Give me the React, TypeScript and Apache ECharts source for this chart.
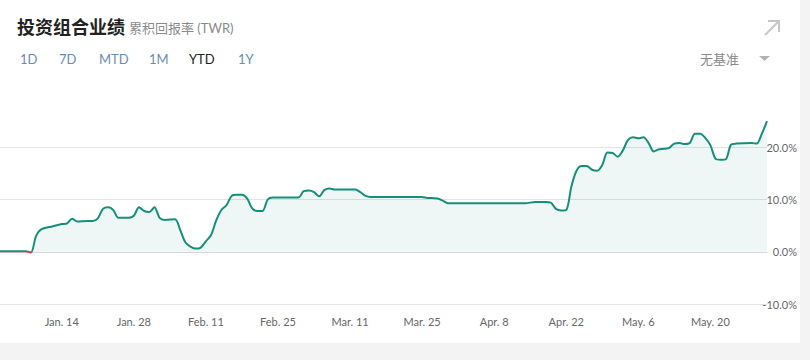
import React, { useEffect, useRef } from "react";
import * as echarts from "echarts";

const YEAR = 2025;

const dates = [
  "01-02", "01-07", "01-08", "01-09", "01-10", "01-12", "01-14", "01-15", "01-16", "01-17",
  "01-19", "01-20", "01-21", "01-22", "01-23", "01-24", "01-25", "01-27", "01-28", "01-29",
  "01-30", "01-31", "02-01", "02-02", "02-03", "02-05", "02-06", "02-07", "02-08", "02-09",
  "02-10", "02-11", "02-12", "02-13", "02-14", "02-15", "02-16", "02-17", "02-18", "02-19",
  "02-20", "02-21", "02-22", "02-23", "02-24", "03-01", "03-02", "03-03", "03-04", "03-05",
  "03-06", "03-07", "03-08", "03-12", "03-13", "03-14", "03-15", "03-25", "03-26", "03-28",
  "03-29", "03-30", "04-14", "04-16", "04-18", "04-19", "04-20", "04-21", "04-22", "04-23",
  "04-24", "04-25", "04-26", "04-27", "04-28", "04-29", "04-30", "05-01", "05-02", "05-03",
  "05-04", "05-05", "05-06", "05-07", "05-08", "05-09", "05-10", "05-11", "05-12", "05-13",
  "05-14", "05-15", "05-16", "05-17", "05-18", "05-19", "05-20", "05-21", "05-22", "05-23",
  "05-24", "05-25", "05-28", "05-29", "05-30", "05-31",
];

const values = [
  0.1, 0.1, -0.15, 3.0, 4.3, 4.8, 5.3, 5.4, 6.3, 5.8,
  5.9, 5.9, 6.4, 8.2, 8.5, 8.0, 6.5, 6.5, 6.9, 8.5,
  7.8, 7.6, 8.5, 6.5, 6.1, 6.2, 4.2, 1.8, 1.0, 0.6,
  0.8, 2.0, 3.2, 6.0, 8.0, 8.9, 10.7, 10.9, 10.9, 10.2,
  8.3, 7.8, 7.8, 10.0, 10.4, 10.4, 11.6, 11.7, 11.4, 10.6,
  11.8, 12.1, 11.9, 11.9, 11.4, 10.7, 10.5, 10.5, 10.3, 10.2,
  9.8, 9.3, 9.3, 9.5, 9.5, 9.4, 8.2, 7.9, 8.0, 12.5,
  15.5, 16.4, 16.4, 15.7, 15.5, 16.6, 19.0, 18.9, 18.2, 19.4,
  21.4, 21.9, 21.7, 21.9, 20.8, 19.2, 19.6, 19.7, 19.9, 20.7,
  20.8, 20.6, 20.8, 22.6, 22.6, 21.8, 20.4, 17.8, 17.6, 17.7,
  20.5, 20.7, 20.8, 20.7, 22.6, 25.0,
];

const xTickDates = ["01-14", "01-28", "02-11", "02-25", "03-11", "03-25", "04-08", "04-22", "05-06", "05-20"];
const xTickLabels = ["Jan. 14", "Jan. 28", "Feb. 11", "Feb. 25", "Mar. 11", "Mar. 25", "Apr. 8", "Apr. 22", "May. 6", "May. 20"];

const yMin = -10;
const yMax = 30;
const yStep = 10;

const tabs = ["1D", "7D", "MTD", "1M", "YTD", "1Y"];
const tabX = [20, 59, 99, 149, 189, 238];
const activeTab = "YTD";

const titleText = "投资组合业绩";
const subtitleText = "累积回报率 (TWR)";
const benchmarkText = "无基准";

const FONT = 'Lato, "Noto Sans CJK SC", sans-serif';
const TEAL = "#14907a";
const RED = "#d0454c";

function pad(n: number) {
  return n < 10 ? "0" + n : String(n);
}

// every calendar day from the first to the last reading, as "MM-DD" categories
function allDays(first: string, last: string): string[] {
  const [m0, d0] = first.split("-").map(Number);
  const [m1, d1] = last.split("-").map(Number);
  const start = Date.UTC(YEAR, m0 - 1, d0);
  const end = Date.UTC(YEAR, m1 - 1, d1);
  const out: string[] = [];
  for (let t = start; t <= end; t += 86400000) {
    const dt = new Date(t);
    out.push(pad(dt.getUTCMonth() + 1) + "-" + pad(dt.getUTCDate()));
  }
  return out;
}

export default function App() {
  const ref = useRef<HTMLDivElement>(null);

  useEffect(() => {
    if (!ref.current) return;
    const chart = echarts.init(ref.current, undefined, { renderer: "svg" });

    const categories = allDays(dates[0], dates[dates.length - 1]);
    const valueByDate: Record<string, number> = {};
    dates.forEach((d, i) => (valueByDate[d] = values[i]));
    const seriesData = categories.map((c) => (c in valueByDate ? valueByDate[c] : null));

    const H = 343;
    const gridTop = 95;
    const gridBottom = 39;
    const plotH = H - gridTop - gridBottom;
    const zeroY = gridTop + (plotH * (yMax - 0)) / (yMax - yMin);
    const zeroOff = zeroY / H;

    const graphics: any[] = [
      {
        type: "text",
        x: 17,
        y: 27,
        style: { text: titleText, fill: "#222", font: `bold 18px ${FONT}`, verticalAlign: "middle" },
      },
      {
        type: "text",
        x: 129,
        y: 28,
        style: { text: subtitleText, fill: "#8a8a8a", font: `13px ${FONT}`, verticalAlign: "middle" },
      },
      ...tabs.map((t, i) => ({
        type: "text",
        x: tabX[i],
        y: 59,
        style: {
          text: t,
          fill: t === activeTab ? "#222" : "#6b8bb1",
          font: `13px ${FONT}`,
          verticalAlign: "middle",
        },
      })),
      {
        type: "text",
        x: 700,
        y: 59,
        style: { text: benchmarkText, fill: "#888", font: `13px ${FONT}`, verticalAlign: "middle" },
      },
      {
        type: "polygon",
        shape: { points: [[759, 56], [770, 56], [764.5, 61]] },
        style: { fill: "#b3b3b3" },
      },
      {
        type: "line",
        shape: { x1: 765, y1: 35, x2: 779, y2: 21 },
        style: { stroke: "#c6c6c6", lineWidth: 2 },
      },
      {
        type: "polyline",
        shape: { points: [[768, 21], [779, 21], [779, 32]] },
        style: { stroke: "#c6c6c6", lineWidth: 2, fill: null },
      },
    ];

    chart.setOption({
      animation: false,
      backgroundColor: "#fff",
      textStyle: { fontFamily: FONT },
      grid: { left: -2, right: 32, top: gridTop, bottom: gridBottom, containLabel: false },
      xAxis: {
        type: "category",
        data: categories,
        boundaryGap: false,
        axisLine: { show: true, lineStyle: { color: "#d6d8df", width: 1 } },
        axisTick: { show: false },
        splitLine: { show: false },
        axisLabel: {
          color: "#666",
          fontSize: 11,
          margin: 12,
          interval: (_idx: number, value: string) => xTickDates.indexOf(value) >= 0,
          formatter: (value: string) => {
            const idx = xTickDates.indexOf(value);
            return idx >= 0 ? xTickLabels[idx] : "";
          },
        },
      },
      yAxis: {
        type: "value",
        position: "right",
        min: yMin,
        max: yMax,
        interval: yStep,
        axisLine: { show: false },
        axisTick: { show: false },
        splitLine: {
          show: true,
          lineStyle: {
            color: ["#e3e3e6", "#e3e3e6", "#e3e3e6", "#e3e3e6", "rgba(0,0,0,0)"],
            width: 1,
          },
        },
        axisLabel: {
          color: "#666",
          fontSize: 11,
          align: "right",
          margin: 30,
          formatter: (v: number) => (v >= yMax ? "" : v.toFixed(1) + "%"),
        },
      },
      graphic: graphics,
      series: [
        {
          type: "line",
          data: seriesData,
          connectNulls: true,
          showSymbol: false,
          smooth: 0.3,
          lineStyle: {
            width: 2,
            color: {
              type: "linear",
              x: 0,
              y: 0,
              x2: 0,
              y2: H,
              global: true,
              colorStops: [
                { offset: 0, color: TEAL },
                { offset: zeroOff, color: TEAL },
                { offset: zeroOff, color: RED },
                { offset: 1, color: RED },
              ],
            },
          },
          itemStyle: { color: TEAL },
          areaStyle: { color: "rgba(20,144,122,0.1)", origin: 0 },
        },
      ],
    });

    return () => chart.dispose();
  }, []);

  return (
    <div
      style={{
        position: "absolute",
        left: 0,
        top: 0,
        width: 810,
        height: 360,
        background: "#f3f3f3",
      }}
    >
      <div ref={ref} style={{ width: 800, height: 343, background: "#fff" }} />
    </div>
  );
}
